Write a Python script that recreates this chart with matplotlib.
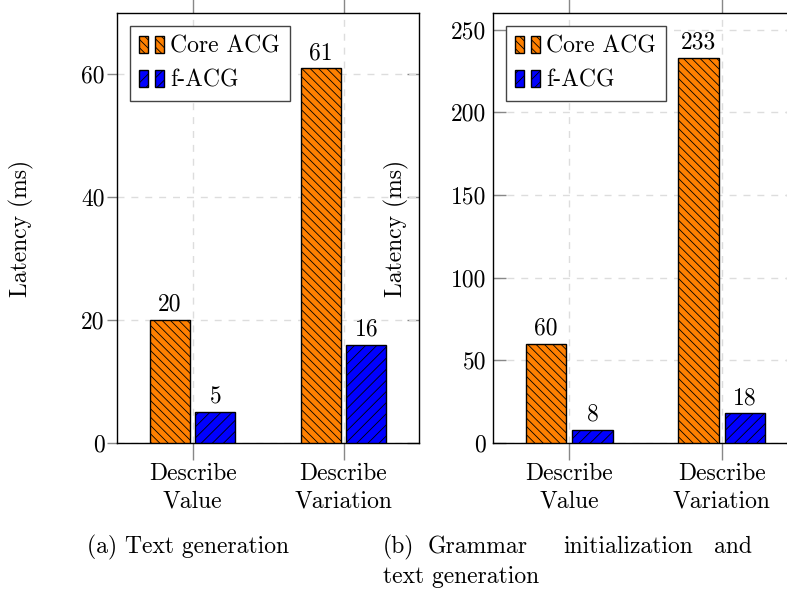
import numpy as np
import matplotlib
matplotlib.use("Agg")
import matplotlib.pyplot as plt
from matplotlib.patches import Patch
from matplotlib.legend_handler import HandlerTuple

plt.rcParams['font.family'] = 'serif'
plt.rcParams['font.serif'] = ['cmr10', 'DejaVu Serif']
plt.rcParams['mathtext.fontset'] = 'cm'
plt.rcParams['axes.unicode_minus'] = False
plt.rcParams['hatch.linewidth'] = 0.6

categories = ["Describe\nValue", "Describe\nVariation"]
series = ["Core ACG", "f-ACG"]
text_gen = [20, 61]
text_gen_f = [5, 16]
grammar_gen = [60, 233]
grammar_gen_f = [8, 18]

colors = ["#ff8000", "#0000ff"]
hatches = ["\\\\\\\\", "///"]
fs = 17

fig = plt.figure(figsize=(7.87, 5.91), dpi=100)
ax1 = fig.add_axes([117/787, 148/591, 302/787, 430/591])
ax2 = fig.add_axes([493/787, 148/591, 305/787, 430/591])

def draw(ax, vals, ymax, yticks, left_out):
    x = np.arange(len(categories))
    w = 0.265
    off = 0.152
    for i, v in enumerate(vals):
        bars = ax.bar(x + (i*2-1)*off, v, w, color=colors[i], hatch=hatches[i],
                      edgecolor="black", linewidth=1.0, zorder=3, label=series[i])
        for b, val in zip(bars, v):
            ax.annotate(str(val), (b.get_x() + b.get_width()/2, val),
                        xytext=(0, 3), textcoords="offset points",
                        ha="center", va="bottom", fontsize=fs)
    ax.set_xlim(-0.5, 1.5)
    ax.set_ylim(0, ymax)
    ax.set_xticks(x)
    ax.set_xticklabels(categories, fontsize=fs, linespacing=1.35)
    ax.set_yticks(yticks)
    ax.tick_params(axis="y", labelsize=fs, direction="out" if left_out else "in",
                   left=True, right=False, length=7.5 if left_out else 9,
                   color="#888888", width=1, pad=1.5 if left_out else 5)
    # inward tick marks on the right spine
    ax2_ = ax.secondary_yaxis("right")
    ax2_.set_yticks(yticks)
    ax2_.tick_params(axis="y", direction="in", length=9, color="#888888",
                     width=1, labelright=False)
    ax2_.spines["right"].set_visible(False)
    ax.tick_params(axis="x", direction="out", top=True, bottom=True,
                   length=12, color="#888888", width=1, pad=2)
    ax.grid(True, color="#dddddd", linestyle=(0, (5, 5)), linewidth=1, zorder=0)
    ax.set_axisbelow(True)
    ax.set_ylabel("Latency (ms)", fontsize=fs)
    ax.yaxis.set_label_coords(-0.275, 0.5)
    for s in ax.spines.values():
        s.set_linewidth(1)
    h = [(Patch(facecolor=colors[i], hatch=hatches[i], edgecolor="black", linewidth=1),
          Patch(facecolor=colors[i], hatch=hatches[i], edgecolor="black", linewidth=1))
         for i in range(2)]
    leg = ax.legend(h, series, loc="upper left", bbox_to_anchor=(0, 1),
                    borderaxespad=0.55, fontsize=fs,
                    handler_map={tuple: HandlerTuple(ndivide=None, pad=0.3)},
                    handlelength=1.06, handleheight=0.72, handletextpad=0.25,
                    fancybox=False, edgecolor="#444444", framealpha=1,
                    labelspacing=0.5, borderpad=0.4)
    leg.get_frame().set_linewidth(1)
    leg.set_zorder(5)

draw(ax1, [text_gen, text_gen_f], 70, [0, 20, 40, 60], True)
draw(ax2, [grammar_gen, grammar_gen_f], 260, [0, 50, 100, 150, 200, 250], False)

fig.text(87/787, 1 - 547/591, "(a) Text generation", fontsize=fs, va="center", ha="left")
fig.text(383/787, 1 - 547/591, "(b)", fontsize=fs, va="center", ha="left")
fig.text(428/787, 1 - 547/591, "Grammar", fontsize=fs, va="center", ha="left")
fig.text(563/787, 1 - 547/591, "initialization", fontsize=fs, va="center", ha="left")
fig.text(752/787, 1 - 547/591, "and", fontsize=fs, va="center", ha="right")
fig.text(383/787, 1 - 577/591, "text generation", fontsize=fs, va="center", ha="left")

fig.savefig("out.png", dpi=100)
